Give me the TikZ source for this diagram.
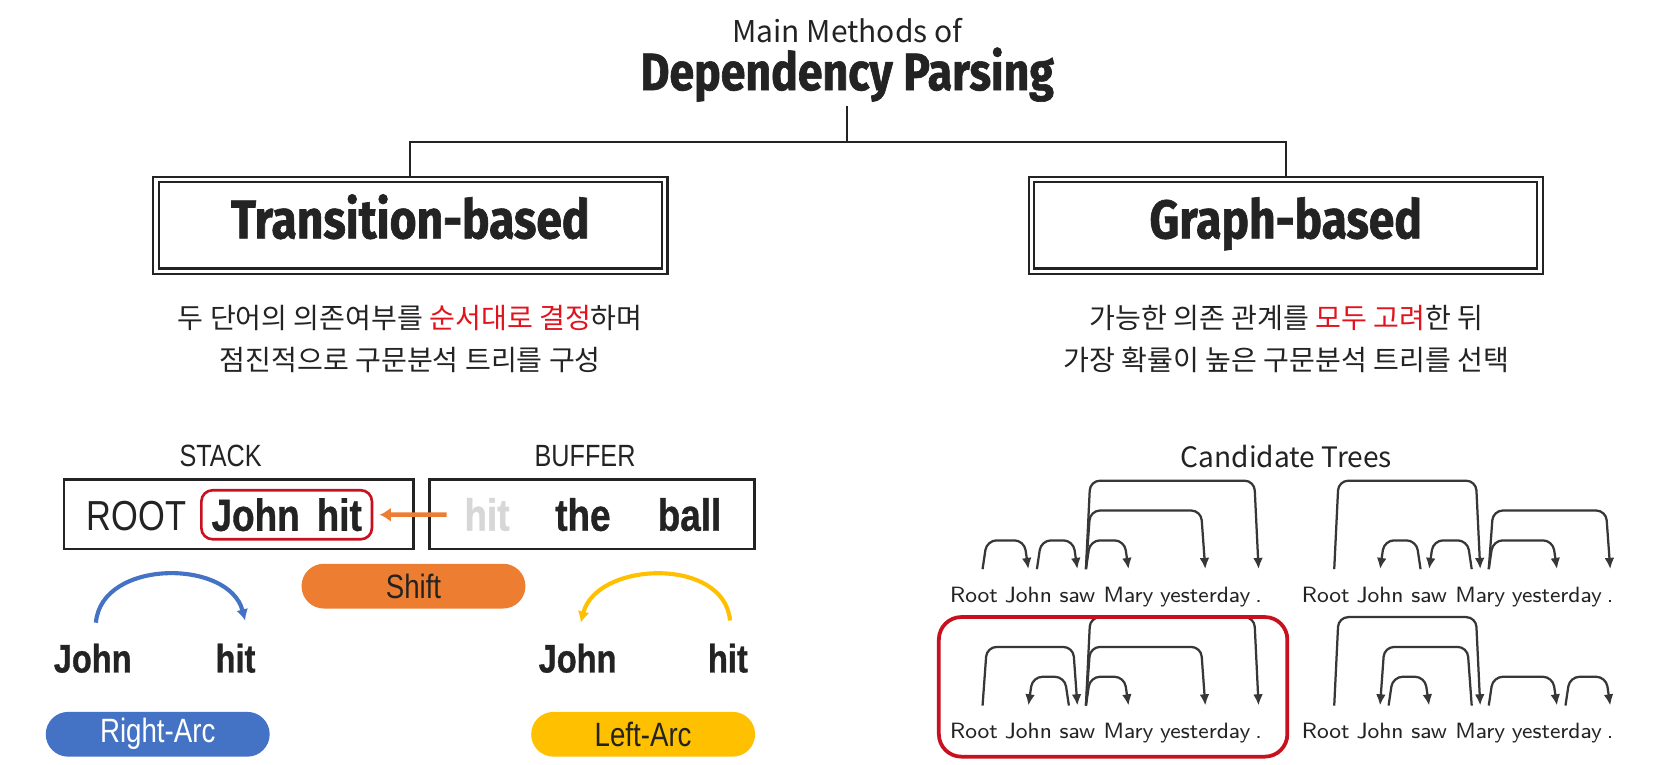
\documentclass[tikz,border=0pt]{standalone}
\usepackage{fontspec}
\setmainfont{Liberation Sans}
\newfontfamily\krfont{Noto Sans CJK KR}
\newfontfamily\headfont[FakeStretch=0.85, BoldFeatures={FakeBold=1.2}]{Fira Sans}
\newfontfamily\narrowfont[FakeStretch=0.82, BoldFeatures={FakeBold=0.8}]{Liberation Sans}
\usetikzlibrary{arrows.meta,calc}

\definecolor{inkgray}{RGB}{35,35,35}
\definecolor{arcgray}{RGB}{55,55,55}
\definecolor{fadegray}{RGB}{215,215,215}
\definecolor{krred}{RGB}{225,20,30}
\definecolor{frameRed}{RGB}{200,16,30}
\definecolor{shiftorange}{RGB}{237,125,49}
\definecolor{rightblue}{RGB}{68,114,196}
\definecolor{leftyellow}{RGB}{255,192,0}

\tikzset{
    link/.style={draw=inkgray, line width=0.55pt},
    method/.style={draw=inkgray, double, double distance=0.9pt, line width=0.6pt,
        minimum width=4.77cm, minimum height=0.86cm, text height=0.69em, text depth=0pt,
        font=\headfont\bfseries\fontsize{14.5}{16}\selectfont, text=inkgray},
    korean/.style={font=\krfont\fontsize{7.5}{11.4}\selectfont, text=inkgray, align=center},
    boxlabel/.style={font=\narrowfont\fontsize{8.2}{9}\selectfont, text=inkgray},
    frame/.style={draw=inkgray, line width=0.6pt, minimum height=0.65cm},
    stackword/.style={anchor=base, inner sep=0pt, text=inkgray,
        font=\narrowfont\bfseries\fontsize{12}{13}\selectfont},
    topbox/.style={draw=frameRed, line width=0.7pt, rounded corners=3pt,
        minimum width=1.6cm, minimum height=0.46cm, inner sep=0pt, text=inkgray,
        font=\narrowfont\bfseries\fontsize{12}{13}\selectfont},
    shiftarrow/.style={draw=shiftorange, line width=1.2pt, -{Latex[length=3pt,width=3.8pt]}},
    pill/.style={minimum width=2.1cm, minimum height=0.42cm, rounded corners=0.21cm,
        inner sep=0pt, font=\narrowfont\fontsize{9}{10}\selectfont},
    arcword/.style={anchor=base, inner sep=0pt, text=inkgray,
        font=\narrowfont\bfseries\fontsize{10.6}{12}\selectfont},
    word/.style={anchor=base, inner xsep=0pt, inner ysep=1.6pt, text height=0.7em,
        text depth=0.2em, text=inkgray, font=\sffamily\fontsize{5.9}{7}\selectfont},
    deparc/.style={draw=arcgray, line width=0.6pt, rounded corners=2.6pt,
        -{Latex[length=3pt,width=2.6pt]}},
}

% one sentence of a candidate tree: prefix, x offset, baseline
\newcommand{\deptree}[3]{%
    \foreach \w/\x [count=\i] in {Root/914,John/965,saw/1011,Mary/1059,yesterday/1131,./1181}
        \node[word] (#1\i) at (\x+#2,#3) {\w};
}
% arcs: from, to, start offset, height
\newcommand{\rarc}[4]{\draw[deparc] ($(#1.north)+(#3,0)$) -- ++(4,-#4) -- ($(#2.north)+(-4,-#4)$) -- (#2.north);}
\newcommand{\larc}[4]{\draw[deparc] ($(#1.north)+(#3,0)$) -- ++(-4,-#4) -- ($(#2.north)+(4,-#4)$) -- (#2.north);}

\begin{document}
\begin{tikzpicture}[x=0.01cm, y=-0.01cm]
\fill[white] (0,0) rectangle (1568,717);
\useasboundingbox (0,0) rectangle (1568,717);

% title and the two methods
\node[anchor=base, font=\krfont\fontsize{8}{9}\selectfont, text=inkgray] (main) at (795,40) {Main Methods of};
\node[anchor=base, inner sep=1pt, font=\headfont\bfseries\fontsize{14}{16}\selectfont, text=inkgray] (dep) at (795,84.5) {Dependency Parsing};
\node[method] (trans) at (385,211.5) {Transition-based};
\node[method] (graph) at (1206.5,211.5) {Graph-based};
\coordinate (split) at (795,133);
\draw[link] (dep.south) -- (split);
\draw[link] (split) -| (trans.north);
\draw[link] (split) -| (graph.north);

\node[korean] (transdesc) at (385,318) {두 단어의 의존여부를 \textcolor{krred}{순서대로 결정}하며\\점진적으로 구문분석 트리를 구성};
\node[korean] (graphdesc) at (1207,318) {가능한 의존 관계를 \textcolor{krred}{모두 고려}한 뒤\\가장 확률이 높은 구문분석 트리를 선택};

% stack and buffer
\node[boxlabel] (stacklbl) at (207,428) {STACK};
\node[boxlabel] (buflbl) at (549,428) {BUFFER};
\node[frame, minimum width=3.28cm] (stack) at (224,482.5) {};
\node[frame, minimum width=3.05cm] (buffer) at (555.5,482.5) {};
\node[stackword, font=\narrowfont\fontsize{11.2}{13}\selectfont] (root) at (128,498) {ROOT};
\node[topbox] (top) at (269,483) {John\hspace{0.16cm}hit};
\node[stackword, text=fadegray] (bufhit) at (457,498) {hit};
\node[stackword] (bufthe) at (547,498) {the};
\node[stackword] (bufball) at (647,498) {ball};
\draw[shiftarrow] ($(bufhit.west)+(-16,0)$) -- ($(top.east)+(6,0)$);

% transitions
\node[pill, fill=shiftorange, text=inkgray] (shift) at (388,550) {Shift};
\node[arcword] (rjohn) at (87,631) {John};
\node[arcword] (rhit) at (221,631) {hit};
\draw[rightblue, line width=1.1pt, -{Latex[length=3pt,width=3.2pt]}]
    ($(rjohn.north)+(3,-19)$) .. controls +(5,-60) and +(-15,-58) .. ($(rhit.north)+(9,-21)$);
\node[pill, fill=rightblue, text=white] (rightarc) at (148,689) {Right-Arc};
\node[arcword] (ljohn) at (542,631) {John};
\node[arcword] (lhit) at (683,631) {hit};
\draw[leftyellow, line width=1.1pt, -{Latex[length=3pt,width=3.2pt]}]
    ($(lhit.north)+(2,-21)$) .. controls +(-5,-60) and +(15,-58) .. ($(ljohn.north)+(3,-19)$);
\node[pill, fill=leftyellow, text=inkgray] (leftarc) at (603.5,689) {Left-Arc};

% candidate trees
\node[font=\krfont\fontsize{7.5}{9}\selectfont, text=inkgray] (cand) at (1207,428) {Candidate Trees};
\deptree{a}{0}{565}
\deptree{b}{330}{565}
\deptree{c}{0}{693}
\deptree{d}{330}{693}

\rarc{a1}{a2}{8}{27}
\rarc{a2}{a3}{8}{27}
\rarc{a3}{a4}{8}{27}
\rarc{a3}{a5}{8}{55}
\rarc{a3}{a6}{8}{83}

\rarc{b1}{b4}{8}{83}
\larc{b3}{b2}{-8}{27}
\larc{b4}{b3}{-8}{27}
\rarc{b4}{b5}{8}{27}
\rarc{b4}{b6}{8}{55}

\rarc{c1}{c3}{8}{55}
\larc{c3}{c2}{-8}{27}
\rarc{c3}{c4}{8}{27}
\rarc{c3}{c5}{8}{55}
\rarc{c3}{c6}{8}{83}

\rarc{d1}{d4}{8}{83}
\larc{d4}{d2}{-8}{55}
\rarc{d2}{d3}{8}{27}
\rarc{d4}{d5}{8}{27}
\rarc{d5}{d6}{8}{27}

\draw[frameRed, line width=1pt, rounded corners=6pt] (881,579) rectangle (1208,710);
\end{tikzpicture}
\end{document}
